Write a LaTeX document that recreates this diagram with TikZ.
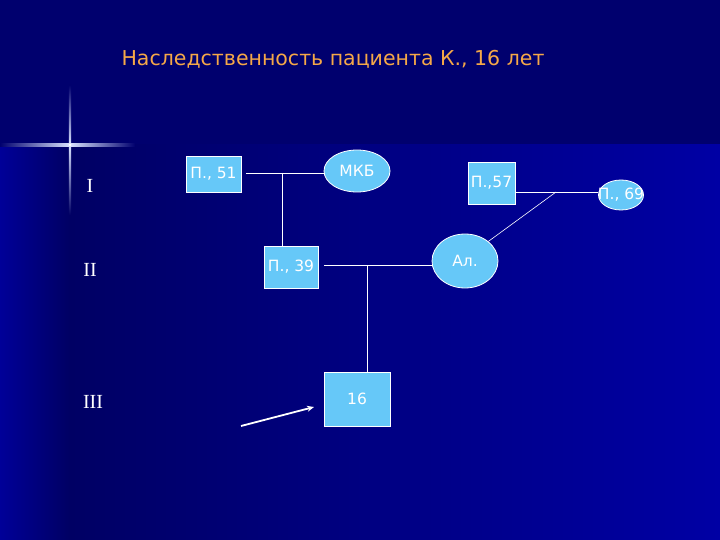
\documentclass[tikz,border=0pt]{standalone}
\usepackage{fontspec}
\setmainfont{DejaVu Sans}
\newfontfamily\serifroman{Liberation Serif}
\usetikzlibrary{shapes.geometric,arrows.meta}
\definecolor{bgtop}{HTML}{00006E}
\definecolor{bgdark}{HTML}{000064}
\definecolor{bgright}{HTML}{0000A4}
\definecolor{strip}{HTML}{000098}
\definecolor{boxfill}{HTML}{66C8F8}
\definecolor{titlecol}{HTML}{F5A848}
\definecolor{glow}{HTML}{4070FF}
\tikzset{
  person/.style={draw=white, line width=0.8pt, fill=boxfill, text=white, font=\fontsize{15.5}{17}\selectfont, inner sep=0pt},
  male/.style={person, rectangle},
  female/.style={person, ellipse},
  link/.style={draw=white, line width=0.8pt},
  gen/.style={text=white, font=\serifroman\fontsize{20}{20}\selectfont},
}
\begin{document}
\begin{tikzpicture}[x=1pt,y=-1pt]
\useasboundingbox (0,0) rectangle (720,540);
% background
\fill[bgtop] (0,0) rectangle (720,540);
\shade[left color=bgdark, right color=bgright] (69,145) rectangle (720,540);
\shade[left color=strip, right color=bgdark] (0,145) rectangle (69,540);
% glow cross
\shade[left color=bgtop, right color=white!80!glow] (0,144) rectangle (70,146.5);
\shade[left color=white!80!glow, right color=bgtop] (70,144) rectangle (135,146.5);
\shade[top color=bgtop, bottom color=white!80!glow] (68.8,85) rectangle (71.2,145);
\shade[top color=white!80!glow, bottom color=bgdark] (68.8,145) rectangle (71.2,215);
\fill[white] (70,145) circle (1.5);
% title
\node[text=titlecol, font=\fontsize{20.5}{24}\selectfont] (title) at (333,59) {Наследственность пациента К., 16 лет};
% generation labels
\node[gen] (g1) at (90,186) {I};
\node[gen] (g2) at (90,270) {II};
\node[gen] (g3) at (93,402) {III};
% persons
\node[male, minimum width=55pt, minimum height=36pt] (p51) at (213.5,174) {П., 51};
\node[female, minimum width=66pt, minimum height=42pt] (mkb) at (357,171) {МКБ};
\node[male, minimum width=54pt, minimum height=42pt] (p39) at (291,267) {П., 39};
\node[female, minimum width=66pt, minimum height=54pt] (al) at (465,261) {Ал.};
\node[male, minimum width=47pt, minimum height=42pt] (p57) at (491.5,183) {П.,57};
\node[female, minimum width=45pt, minimum height=30pt] (p69) at (621,195) {};
\node[text=white, font=\fontsize{15.5}{17}\selectfont, inner sep=0pt] (p69t) at (p69.center) {П., 69};
\node[male, minimum width=66pt, minimum height=54pt] (c16) at (357,399) {16};
% connectors
\coordinate (m1) at (282,173);
\coordinate (m2) at (367,265);
\coordinate (m3) at (556,192);
\draw[link] (246,173) -- (mkb.west |- 0,173);
\draw[link] (m1) -- (p39.north -| m1);
\draw[link] (324,265) -- (al.west |- 0,265);
\draw[link] (m2) -- (c16.north -| m2);
\draw[link] (p57.east |- 0,192) -- (p69.west |- 0,192);
\draw[link, line width=0.6pt] (m3) -- (al.40);
% arrow
\coordinate (a0) at (241,426);
\draw[white, line width=1.8pt, -{Stealth[length=7pt,width=6pt]}] (a0) -- (314,407);
\end{tikzpicture}
\end{document}
